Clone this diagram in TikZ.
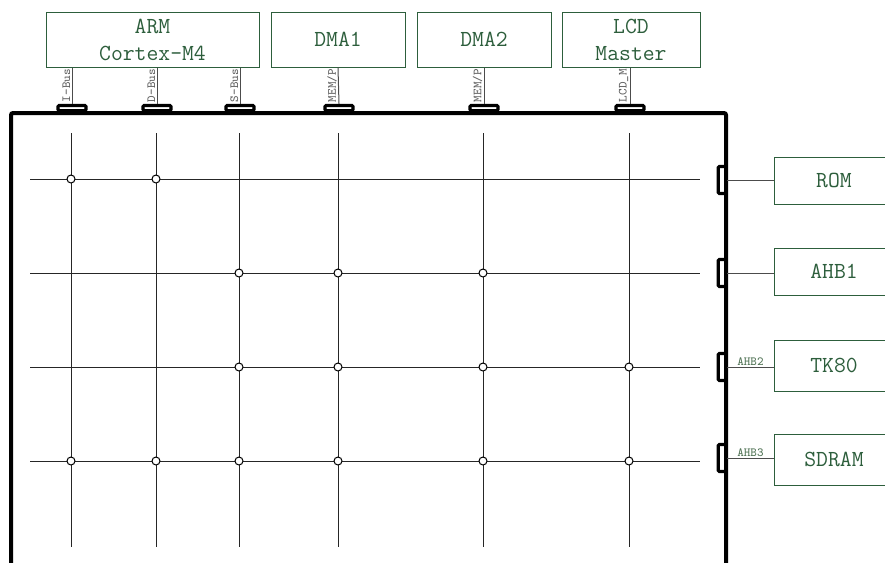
\documentclass[tikz,border=0pt]{standalone}
\usepackage{tikz}

\definecolor{boxgreen}{RGB}{45,94,60}
\definecolor{taggray}{RGB}{95,95,95}
\definecolor{taggreen}{RGB}{80,115,85}

\tikzset{
  unit/.style={draw=boxgreen, text=boxgreen, line width=0.5pt, align=center, inner sep=0pt,
    font=\ttfamily\fontsize{11.5}{13.5}\selectfont},
  hport/.style={draw, line width=1.6pt, fill=white, rounded corners=0.6pt, inner sep=0pt,
    minimum width=14pt, minimum height=2.6pt},
  vport/.style={hport, minimum width=3.8pt, minimum height=13.5pt},
  conn/.style={draw=black!70, line width=0.5pt},
  grid line/.style={draw=black!85, line width=0.45pt},
  tag/.style={font=\ttfamily\fontsize{6.2}{7}\selectfont, text=taggray, inner sep=0.6pt},
  joint/.style={circle, draw, fill=white, line width=0.5pt, minimum size=4pt, inner sep=0pt},
}

\begin{document}
\begin{tikzpicture}[x=0.5pt, y=-0.5pt]

                \useasboundingbox (0,0) rectangle (885,563);
                \clip (0,0) rectangle (885,563);

                % Masters
                \node[unit, minimum width=106.5pt, minimum height=27.5pt] (arm) at (152.5,39.5) {ARM\\Cortex-M4};
                \node[unit, minimum width=67pt, minimum height=27.5pt] (dma1) at (338,39.5) {DMA1};
                \node[unit, minimum width=67pt, minimum height=27.5pt] (dma2) at (484,39.5) {DMA2};
                \node[unit, minimum width=69pt, minimum height=27.5pt] (lcd) at (631,39.5) {LCD\\Master};

                % Bus matrix frame
                \draw [line width=2pt, rounded corners=1pt] (11,580) -- (11,113) -- (726,113) -- (726,580);

                % Master ports
                \node[hport] (pi) at (72,108) {};
                \node[hport] (pd) at (157,108) {};
                \node[hport] (ps) at (240,108) {};
                \node[hport] (pdma1) at (339,108) {};
                \node[hport] (pdma2) at (484,108) {};
                \node[hport] (plcd) at (630,108) {};

                % Join the masters to their ports
                \draw [conn] (pi.north) -- node[tag, rotate=90, anchor=south] {I-Bus} (pi.north |- arm.south);
                \draw [conn] (pd.north) -- node[tag, rotate=90, anchor=south] {D-Bus} (pd.north |- arm.south);
                \draw [conn] (ps.north) -- node[tag, rotate=90, anchor=south] {S-Bus} (ps.north |- arm.south);
                \draw [conn] (pdma1.north) -- node[tag, rotate=90, anchor=south] {MEM/P} (dma1.south);
                \draw [conn] (pdma2.north) -- node[tag, rotate=90, anchor=south] {MEM/P} (dma2.south);
                \draw [conn] (plcd.north) -- node[tag, rotate=90, anchor=south] {LCD\_M} (plcd.north |- lcd.south);

                % Matrix lines
                \foreach \gx in {71,156,239,338,483,629}
                    \draw [grid line] (\gx,133) -- (\gx,547);
                \foreach \gy in {179,273,367,461}
                    \draw [grid line] (30,\gy) -- (700,\gy);

                % Switch points
                \foreach \gx/\gy in {71/179,156/179,
                                    239/273,338/273,483/273,
                                    239/367,338/367,483/367,629/367,
                                    71/461,156/461,239/461,338/461,483/461,629/461}
                    \node[joint] at (\gx,\gy) {};

                % Slave ports
                \node[vport] (prom) at (722,180) {};
                \node[vport] (pahb1) at (722,273) {};
                \node[vport] (ptk) at (722,367) {};
                \node[vport] (psdram) at (722,458) {};

                % Slaves
                \node[unit, minimum width=60pt, minimum height=23.5pt] (rom) at (834,180.5) {ROM};
                \node[unit, minimum width=60pt, minimum height=23.5pt] (ahb1) at (834,271.5) {AHB1};
                \node[unit, minimum width=60pt, minimum height=25.5pt] (tk80) at (834,365.5) {TK80};
                \node[unit, minimum width=60pt, minimum height=25.5pt] (sdram) at (834,459.5) {SDRAM};

                % Join the ports to the slaves
                \draw [conn] (prom.east) -- (prom.east -| rom.west);
                \draw [conn] (pahb1.east) -- (pahb1.east -| ahb1.west);
                \draw [conn] (ptk.east) -- node[tag, above, text=taggreen] {AHB2} (ptk.east -| tk80.west);
                \draw [conn] (psdram.east) -- node[tag, above, text=taggreen] {AHB3} (psdram.east -| sdram.west);

            \end{tikzpicture}
\end{document}
